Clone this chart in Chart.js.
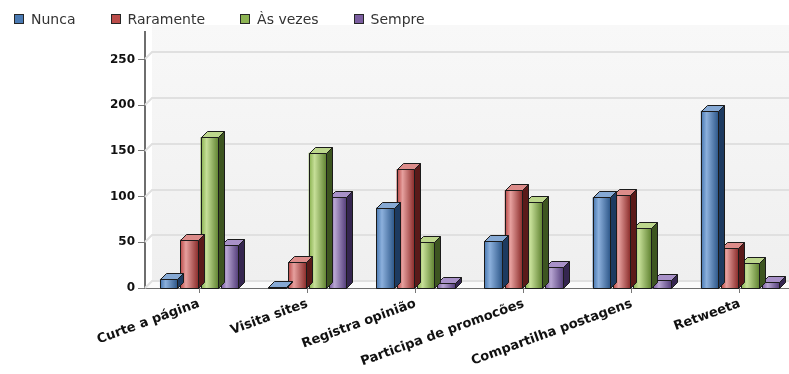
<!DOCTYPE html>
<html>
<head>
<meta charset="utf-8">
<script src="https://cdn.jsdelivr.net/npm/chart.js@4/dist/chart.umd.min.js"></script>
<style>
  html, body { margin: 0; padding: 0; background: #fff; overflow: hidden; width: 789px; height: 374px; }
  #wrap { position: relative; width: 794px; height: 374px; }
  canvas { position: absolute; left: 0; top: 0; }
  #legend { position: absolute; left: 14px; top: 11px; display: flex; font: 14px "DejaVu Sans", sans-serif; color: #333; }
  .item { display: flex; align-items: center; margin-right: 35px; }
  .sw { width: 8px; height: 8px; border: 1px solid #262626; margin-right: 7px; }
</style>
</head>
<body>
<div id="wrap">
  <canvas id="c" width="794" height="374"></canvas>
  <div id="legend"></div>
</div>
<script>
// Categories and answers per frequency
const categories = ['Curte a página', 'Visita sites', 'Registra opinião', 'Participa de promocões', 'Compartilha postagens', 'Retweeta'];
const seriesNames = ['Nunca', 'Raramente', 'Às vezes', 'Sempre'];
const nunca     = [10, 1, 88, 51, 99, 194];
const raramente = [53, 28, 130, 107, 102, 44];
const asVezes   = [165, 148, 50, 94, 66, 27];
const sempre    = [47, 99, 6, 23, 9, 7];
const yTicks    = [0, 50, 100, 150, 200, 250];

// Shading for each series: front edge, highlight, dark edge, side face, top face
const palette = [
  { base: '#4a7ab3', hi: '#8cb0dc', lo: '#2c5688', side: '#1d3a60', top: '#86a9d4' },
  { base: '#bb4c4a', hi: '#e6a09e', lo: '#8a2b29', side: '#5a1a19', top: '#dc8c8a' },
  { base: '#8db453', hi: '#c6df98', lo: '#5f8230', side: '#3d5520', top: '#bcd68c' },
  { base: '#7b5ea0', hi: '#b7a5d2', lo: '#533d7a', side: '#352650', top: '#a891c8' }
];
const seriesValues = [nunca, raramente, asVezes, sempre];
const DEPTH = 6;

// HTML legend
const legend = document.getElementById('legend');
seriesNames.forEach((name, i) => {
  const item = document.createElement('div');
  item.className = 'item';
  const sw = document.createElement('span');
  sw.className = 'sw';
  sw.style.background = palette[i].base;
  const txt = document.createElement('span');
  txt.textContent = name;
  item.appendChild(sw);
  item.appendChild(txt);
  legend.appendChild(item);
});

function poly(ctx, pts, fill, stroke) {
  ctx.beginPath();
  ctx.moveTo(pts[0][0], pts[0][1]);
  for (let i = 1; i < pts.length; i++) ctx.lineTo(pts[i][0], pts[i][1]);
  ctx.closePath();
  ctx.fillStyle = fill;
  ctx.fill();
  if (stroke) { ctx.strokeStyle = stroke; ctx.lineWidth = 1; ctx.stroke(); }
}

// Back wall, floor and gridlines behind the bars; depth faces on each bar
const threeD = {
  id: 'threeD',
  beforeDatasetsDraw(chart) {
    const { ctx, chartArea: a, scales: { y } } = chart;
    const d = DEPTH + 1;
    ctx.save();
    const g = ctx.createLinearGradient(0, a.top - d, 0, a.bottom - d);
    g.addColorStop(0, '#f8f8f8');
    g.addColorStop(1, '#efefef');
    ctx.fillStyle = g;
    ctx.fillRect(a.left + d, a.top - d, a.right - a.left - d, a.bottom - a.top);
    // floor
    poly(ctx, [[a.left, a.bottom], [a.left + d, a.bottom - d], [a.right, a.bottom - d], [a.right, a.bottom]], '#fafafa', null);
    // gridlines on the back wall
    ctx.strokeStyle = '#e0e0e0';
    ctx.lineWidth = 2;
    yTicks.forEach(v => {
      const py = Math.round(y.getPixelForValue(v));
      ctx.beginPath();
      ctx.moveTo(a.left, py);
      ctx.lineTo(a.left + d, py - d);
      ctx.lineTo(a.right, py - d);
      ctx.stroke();
    });
    ctx.restore();
  },
  afterDatasetDraw(chart, args) {
    const { ctx } = chart;
    const p = palette[args.index];
    const d = DEPTH;
    ctx.save();
    args.meta.data.forEach(el => {
      const { x, y, base, width } = el.getProps(['x', 'y', 'base', 'width'], true);
      const l = Math.round(x - width / 2) + 0.5, r = Math.round(x + width / 2) + 0.5;
      const t = Math.round(y) + 0.5, b = Math.round(base) + 0.5;
      const g = ctx.createLinearGradient(l, 0, r, 0);
      g.addColorStop(0, p.base);
      g.addColorStop(0.3, p.hi);
      g.addColorStop(1, p.lo);
      poly(ctx, [[l, t], [r, t], [r, b], [l, b]], g, '#1b1b1b');
      poly(ctx, [[r, t], [r + d, t - d], [r + d, b - d], [r, b]], p.side, '#1b1b1b');
      poly(ctx, [[l, t], [l + d, t - d], [r + d, t - d], [r, t]], p.top, '#1b1b1b');
    });
    ctx.restore();
  }
};

new Chart(document.getElementById('c'), {
  type: 'bar',
  data: {
    labels: categories,
    datasets: seriesNames.map((name, i) => ({
      label: name,
      data: seriesValues[i],
      backgroundColor: palette[i].base,
      borderWidth: 0,
      categoryPercentage: 0.75,
      barPercentage: 0.86
    }))
  },
  options: {
    responsive: false,
    animation: false,
    devicePixelRatio: 1,
    layout: { padding: { top: 32, right: 0, left: 0, bottom: 0 } },
    plugins: { legend: { display: false }, tooltip: { enabled: false } },
    scales: {
      x: {
        afterFit(scale) { scale.height = 86; },
        grid: { drawOnChartArea: false, tickLength: 5, tickColor: '#777', offset: false, tickWidth: 1 },
        border: { color: '#6e6e6e', width: 2 },
        ticks: {
          minRotation: 20, maxRotation: 20, autoSkip: false, padding: 3,
          color: '#111', font: { family: 'DejaVu Sans', size: 13, weight: 'bold' }
        }
      },
      y: {
        min: 0, max: 280,
        afterFit(scale) { scale.width = 145; },
        afterBuildTicks(scale) { scale.ticks = yTicks.map(v => ({ value: v })); },
        grid: { drawOnChartArea: false, tickLength: 7, tickColor: '#777' },
        border: { color: '#6e6e6e', width: 2 },
        ticks: {
          padding: 3, color: '#111',
          font: { family: 'DejaVu Sans', size: 12, weight: 'bold' }
        }
      }
    }
  },
  plugins: [threeD]
});
</script>
</body>
</html>
